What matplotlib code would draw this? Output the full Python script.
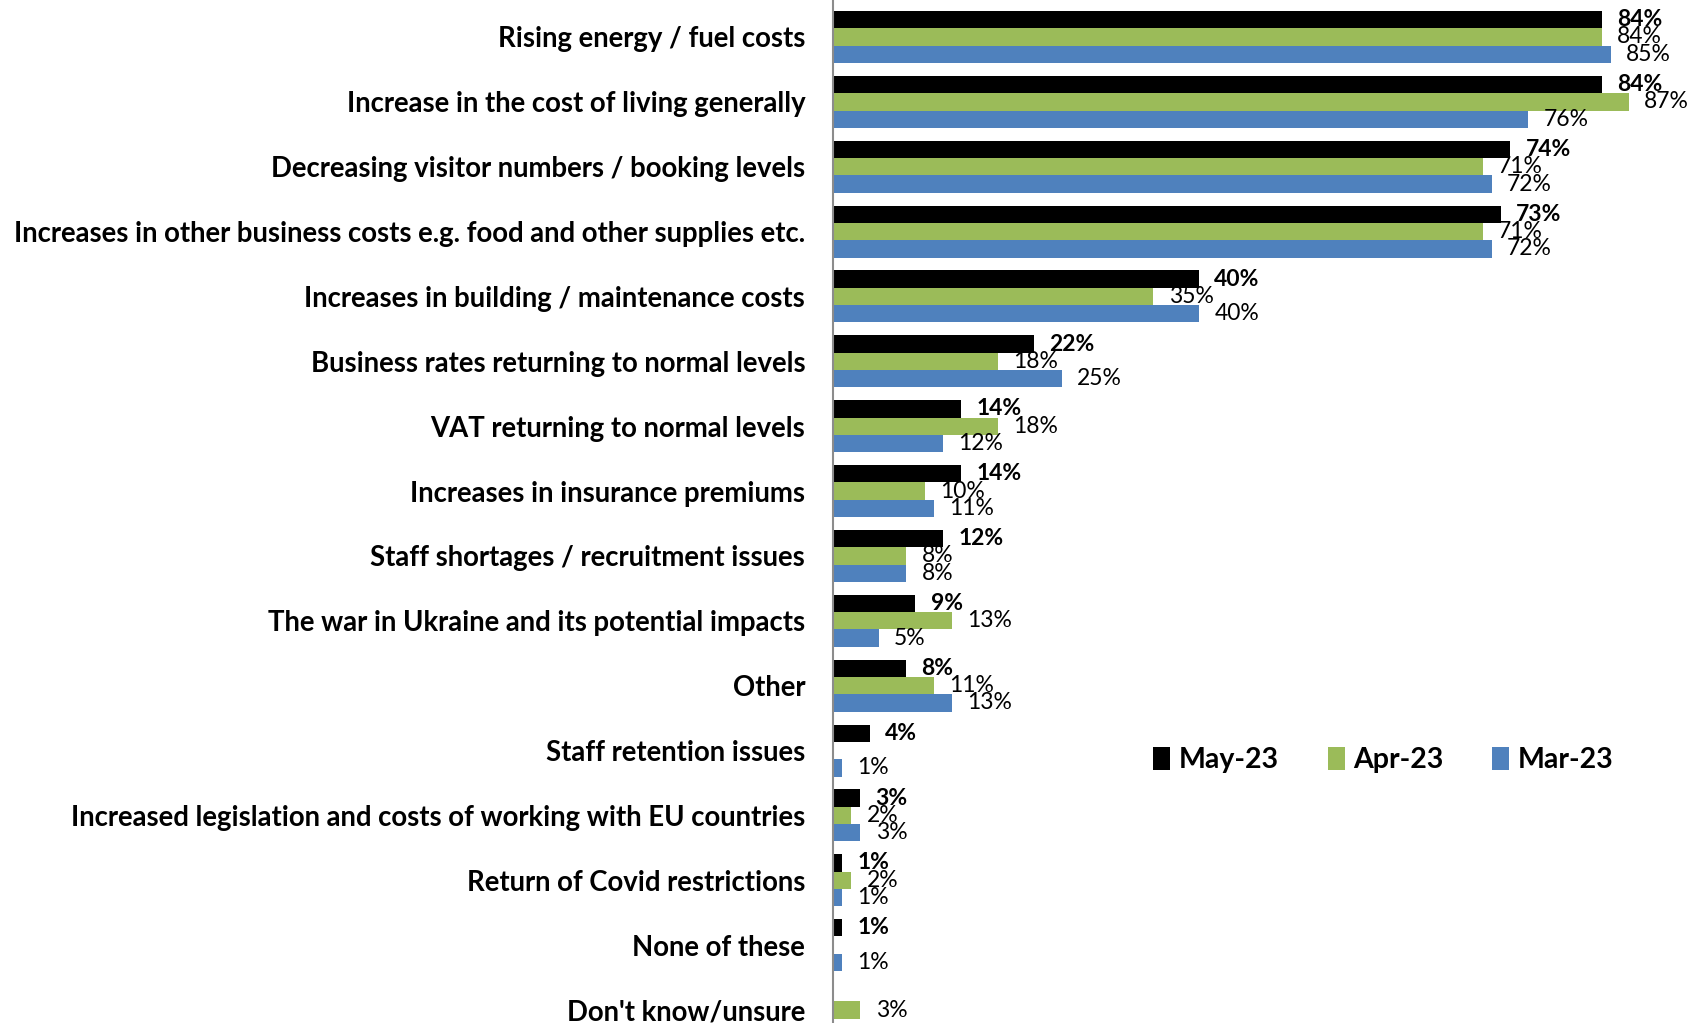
import matplotlib
matplotlib.use('Agg')
import matplotlib.pyplot as plt
import numpy as np

plt.rcParams['font.family'] = ['Lato', 'DejaVu Sans']

categories = [
    'Rising energy / fuel costs',
    'Increase in the cost of living generally',
    'Decreasing visitor numbers / booking levels',
    'Increases in other business costs e.g. food and other supplies etc.',
    'Increases in building / maintenance costs',
    'Business rates returning to normal levels',
    'VAT returning to normal levels',
    'Increases in insurance premiums',
    'Staff shortages / recruitment issues',
    'The war in Ukraine and its potential impacts',
    'Other',
    'Staff retention issues',
    'Increased legislation and costs of working with EU countries',
    'Return of Covid restrictions',
    'None of these',
    "Don't know/unsure",
]
may23 = [84, 84, 74, 73, 40, 22, 14, 14, 12, 9, 8, 4, 3, 1, 1, None]
apr23 = [84, 87, 71, 71, 35, 18, 18, 10, 8, 13, 11, None, 2, 2, None, 3]
mar23 = [85, 76, 72, 72, 40, 25, 12, 11, 8, 5, 13, 1, 3, 1, 1, None]

series = [
    ('May-23', may23, '#000000', 'bold'),
    ('Apr-23', apr23, '#9BBB59', 'normal'),
    ('Mar-23', mar23, '#4F81BD', 'normal'),
]

fig = plt.figure(figsize=(17, 10.23), dpi=100)
ax = fig.add_axes([0.49, 0.0, 0.51, 1.0])

y = np.arange(len(categories))
h = 0.267
for i, (name, vals, color, weight) in enumerate(series):
    pos = y - h + i * h
    v = np.array([np.nan if x is None else x for x in vals], dtype=float)
    ax.barh(pos, np.nan_to_num(v), height=h, color=color, label=name)
    for yy, val in zip(pos, vals):
        if val is None:
            continue
        ax.annotate(f'{val}%', (val, yy), xytext=(11, 0), textcoords='offset points',
                    ha='left', va='center', fontsize=16.5, fontweight=weight, color='black')

ax.set_xlim(0, 94.75)
ax.set_ylim(15.2, -0.57)
ax.set_yticks(y)
ax.set_yticklabels(categories, fontsize=19.8, fontweight='bold')
ax.tick_params(axis='y', length=0, pad=20)
ax.set_xticks([])
for s in ['top', 'right', 'bottom']:
    ax.spines[s].set_visible(False)
ax.spines['left'].set_color('#8C8C8C')
ax.spines['left'].set_linewidth(1.5)

leg = ax.legend(loc='center left', bbox_to_anchor=(0.34, 0.257), ncol=3, frameon=False,
                prop={'size': 20.5, 'weight': 'bold'}, handlelength=0.6, handleheight=0.9,
                handletextpad=0.3, columnspacing=1.7)

fig.savefig('out.png', dpi=100)
